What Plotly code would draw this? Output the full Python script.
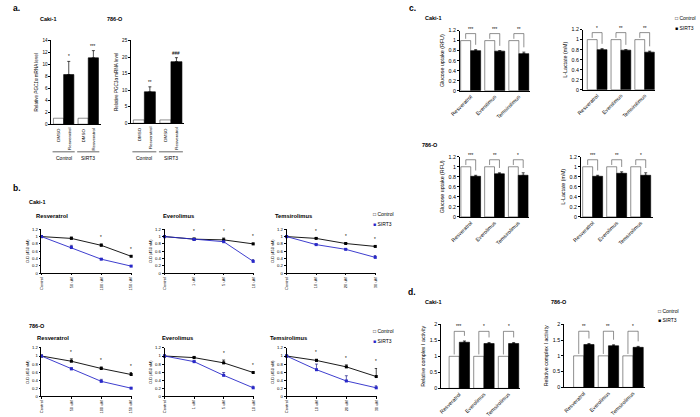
import plotly.graph_objects as go

W, H = 700, 417
FONT = "Liberation Sans, Arial, sans-serif"
BLUE = "#2828c8"
BARGAP = 0.17

# ---- a. PGC1a mRNA level
a_groups = ["Control", "SIRT3"]
a_conds = ["DMSO", "Resveratrol"]
a_caki_dmso = [1.0, 1.0]
a_caki_res = [8.3, 11.1]
a_caki_res_err = [2.2, 1.2]
a_caki_sig = ["*", "***"]
a_786_dmso = [1.0, 1.0]
a_786_res = [9.5, 18.6]
a_786_res_err = [1.5, 1.2]
a_786_sig = ["**", "###"]

# ---- b. cell viability (O.D 450 nM)
res_ticks = ["Control", "50 uM", "100 uM", "150 uM"]
eve_ticks = ["Control", "1 uM", "5 uM", "10 uM"]
tem_ticks = ["Control", "10 uM", "20 uM", "30 uM"]

caki_res_ctrl = [1.0, 0.95, 0.76, 0.46]
caki_res_ctrl_err = [0, 0.04, 0.04, 0.02]
caki_res_sirt = [1.0, 0.70, 0.38, 0.19]
caki_res_sirt_err = [0, 0.06, 0.02, 0.01]
caki_res_sig = ["", "", "*", "*"]

caki_eve_ctrl = [1.0, 0.93, 0.91, 0.80]
caki_eve_ctrl_err = [0, 0.03, 0.05, 0.02]
caki_eve_sirt = [1.0, 0.92, 0.86, 0.32]
caki_eve_sirt_err = [0, 0.02, 0.02, 0.05]
caki_eve_sig = ["", "*", "*", "*"]

caki_tem_ctrl = [1.0, 0.95, 0.81, 0.73]
caki_tem_ctrl_err = [0, 0.02, 0.02, 0.02]
caki_tem_sirt = [1.0, 0.78, 0.65, 0.43]
caki_tem_sirt_err = [0, 0.02, 0.02, 0.05]
caki_tem_sig = ["", "*", "*", "*"]

o786_res_ctrl = [1.0, 0.87, 0.69, 0.54]
o786_res_ctrl_err = [0, 0.06, 0.04, 0.05]
o786_res_sirt = [1.0, 0.68, 0.37, 0.20]
o786_res_sirt_err = [0, 0.03, 0.05, 0.02]
o786_res_sig = ["", "*", "*", "*"]

o786_eve_ctrl = [1.0, 0.96, 0.83, 0.59]
o786_eve_ctrl_err = [0, 0.03, 0.07, 0.02]
o786_eve_sirt = [1.0, 0.86, 0.52, 0.21]
o786_eve_sirt_err = [0, 0.02, 0.07, 0.04]
o786_eve_sig = ["", "", "*", "*"]

o786_tem_ctrl = [1.0, 0.89, 0.73, 0.49]
o786_tem_ctrl_err = [0, 0.03, 0.05, 0.20]
o786_tem_sirt = [1.0, 0.66, 0.38, 0.21]
o786_tem_sirt_err = [0, 0.14, 0.13, 0.05]
o786_tem_sig = ["", "*", "*", "*"]

# ---- c. glucose uptake / lactate, d. complex I activity
drugs = ["Resveratrol", "Everolimus", "Temsirolimus"]
ctrl_ones = [1.0, 1.0, 1.0]

caki_glu = [0.80, 0.79, 0.74]
caki_glu_err = [0.02, 0.01, 0.03]
caki_glu_sig = ["***", "***", "**"]
caki_lac = [0.80, 0.79, 0.75]
caki_lac_err = [0.02, 0.01, 0.02]
caki_lac_sig = ["*", "**", "**"]
o786_glu = [0.81, 0.86, 0.83]
o786_glu_err = [0.02, 0.02, 0.05]
o786_glu_sig = ["***", "**", "*"]
o786_lac = [0.81, 0.87, 0.83]
o786_lac_err = [0.02, 0.03, 0.05]
o786_lac_sig = ["***", "**", "*"]

caki_cx1 = [1.44, 1.40, 1.40]
caki_cx1_err = [0.04, 0.03, 0.03]
caki_cx1_sig = ["***", "*", "*"]
o786_cx1 = [1.36, 1.32, 1.27]
o786_cx1_err = [0.03, 0.03, 0.03]
o786_cx1_sig = ["**", "**", "*"]

fig = go.Figure()
n_axes = 0


def new_axes(x0, x1, y_top, y_bot, xopt, yopt):
    # domains given in page pixels
    global n_axes
    n_axes += 1
    s = "" if n_axes == 1 else str(n_axes)
    xa = dict(domain=[x0 / W, x1 / W], anchor="y" + s, showline=True, linecolor="black",
              linewidth=0.8, showgrid=False, zeroline=False, ticks="", color="black")
    ya = dict(domain=[1 - y_bot / H, 1 - y_top / H], anchor="x" + s, showline=True,
              linecolor="black", linewidth=0.8, showgrid=False, zeroline=False,
              ticks="outside", ticklen=2, tickwidth=0.7, color="black")
    xa.update(xopt)
    ya.update(yopt)
    fig.update_layout({"xaxis" + s: xa, "yaxis" + s: ya})
    return "x" + s, "y" + s


def label(x, y, text, size, bold=False, anchor="left"):
    fig.add_annotation(x=x / W, y=1 - y / H, xref="paper", yref="paper",
                       text=f"<b>{text}</b>" if bold else text, showarrow=False,
                       xanchor=anchor, yanchor="middle", font=dict(size=size, color="black"))


def legend(x, y, sirt_color, size=5):
    label(x, y, "□ Control", size)
    label(x, y + 10, f"<span style='color:{sirt_color}'>■</span> SIRT3", size)


def err(vals):
    return dict(type="data", array=vals, symmetric=False, arrayminus=[0] * len(vals),
                color="black", thickness=0.7, width=1.5)


def panel_a(x0, x1, y_top, y_bot, dmso, res, res_err, sig, ymax, dtick):
    xa, ya = new_axes(x0, x1, y_top, y_bot,
                      dict(range=[-0.5, len(a_groups) - 0.5], showticklabels=False),
                      dict(range=[0, ymax], dtick=dtick, tickfont=dict(size=4.6),
                           title=dict(text="Relative <i>PGC1α</i> mRNA level",
                                      font=dict(size=4.6), standoff=3)))
    xs = list(range(len(a_groups)))
    fig.add_bar(x=xs, y=dmso, marker=dict(color="white", line=dict(color="#444", width=0.6)),
                xaxis=xa, yaxis=ya, showlegend=False)
    fig.add_bar(x=xs, y=res, marker=dict(color="black", line=dict(color="black", width=0.6)),
                error_y=err(res_err), xaxis=xa, yaxis=ya, showlegend=False)
    off = (1 - BARGAP) / 4
    for i, g in enumerate(a_groups):
        for j, c in enumerate(a_conds):
            fig.add_annotation(x=i + (2 * j - 1) * off, y=1 - (y_bot + 2) / H, xref=xa, yref="paper",
                               text=c, textangle=-90, showarrow=False, xanchor="center",
                               yanchor="top", font=dict(size=4.4))
        fig.add_shape(type="line", x0=i - 0.45, x1=i + 0.45, y0=1 - 151 / H, y1=1 - 151 / H,
                      xref=xa, yref="paper", line=dict(color="black", width=0.6))
        fig.add_annotation(x=i, y=1 - 157 / H, xref=xa, yref="paper", text=g, showarrow=False,
                           font=dict(size=5))
        fig.add_annotation(x=i + off, y=res[i] + res_err[i], xref=xa, yref=ya, text=sig[i],
                           showarrow=False, yanchor="bottom", yshift=0, font=dict(size=4.6))


def panel_bar(x0, x1, y_top, y_bot, xr, trt, trt_err, sig, ymax, dtick, ytitle, bfrac):
    xa, ya = new_axes(x0, x1, y_top, y_bot,
                      dict(range=xr, tickvals=list(range(len(drugs))), ticktext=drugs,
                           tickangle=-45, tickfont=dict(size=5.3)),
                      dict(range=[0, ymax], dtick=dtick, tickfont=dict(size=5.3),
                           title=dict(text=ytitle, font=dict(size=5.3), standoff=3)))
    xs = list(range(len(drugs)))
    fig.add_bar(x=xs, y=ctrl_ones, marker=dict(color="white", line=dict(color="#444", width=0.6)),
                xaxis=xa, yaxis=ya, showlegend=False)
    fig.add_bar(x=xs, y=trt, marker=dict(color="black", line=dict(color="black", width=0.6)),
                error_y=err(trt_err), xaxis=xa, yaxis=ya, showlegend=False)
    off = (1 - BARGAP) / 4
    top = ymax * bfrac
    for i, s in enumerate(sig):
        lb = ctrl_ones[i] + 0.03 * ymax
        rb = trt[i] + trt_err[i] + 0.08 * ymax
        fig.add_shape(type="path", xref=xa, yref=ya,
                      path=f"M {i - off},{lb} L {i - off},{top} L {i + off},{top} L {i + off},{rb}",
                      line=dict(color="#444", width=0.6))
        fig.add_annotation(x=i, y=top, xref=xa, yref=ya, text=s, showarrow=False,
                           yanchor="bottom", font=dict(size=4.6))


def panel_line(x0, x1, y_top, y_bot, ticks, ctrl, ctrl_err, sirt, sirt_err, sig):
    xs = list(range(len(ticks)))
    xa, ya = new_axes(x0, x1, y_top, y_bot,
                      dict(range=[0, len(ticks) - 1 + 0.03], tickvals=xs, ticktext=ticks,
                           tickangle=-90, tickfont=dict(size=4), ticks="outside", ticklen=1.5,
                           tickwidth=0.6),
                      dict(range=[0, 1.2], dtick=0.2, tickfont=dict(size=4.2),
                           title=dict(text="O.D (450 nM)", font=dict(size=3.9), standoff=2)))
    fig.add_scatter(x=xs, y=ctrl, mode="lines+markers", cliponaxis=False,
                    line=dict(color="black", width=0.9),
                    marker=dict(symbol="square", size=3, color="black"),
                    error_y=err(ctrl_err), xaxis=xa, yaxis=ya, showlegend=False)
    e = err(sirt_err)
    e["color"] = "#20208a"
    fig.add_scatter(x=xs, y=sirt, mode="lines+markers", cliponaxis=False,
                    line=dict(color=BLUE, width=0.9),
                    marker=dict(symbol="square", size=3, color=BLUE),
                    error_y=e, xaxis=xa, yaxis=ya, showlegend=False)
    for i, s in enumerate(sig):
        if s:
            fig.add_annotation(x=i, y=ctrl[i] + ctrl_err[i], xref=xa, yref=ya, text=s,
                               showarrow=False, yanchor="bottom", yshift=2, font=dict(size=4.5))


# a.
panel_a(42, 92, 38, 123, a_caki_dmso, a_caki_res, a_caki_res_err, a_caki_sig, 14, 2)
panel_a(123, 177, 38, 122, a_786_dmso, a_786_res, a_786_res_err, a_786_sig, 25, 5)
label(1, 5, "a.", 8.5, bold=True)
label(28, 16, "Caki-1", 5.5, bold=True)
label(97, 16, "786-O", 5.5, bold=True)

# b.
panel_line(32, 124, 229.6, 274, res_ticks, caki_res_ctrl, caki_res_ctrl_err,
           caki_res_sirt, caki_res_sirt_err, caki_res_sig)
panel_line(157, 248, 229.6, 274, eve_ticks, caki_eve_ctrl, caki_eve_ctrl_err,
           caki_eve_sirt, caki_eve_sirt_err, caki_eve_sig)
panel_line(281, 372, 229.6, 274, tem_ticks, caki_tem_ctrl, caki_tem_ctrl_err,
           caki_tem_sirt, caki_tem_sirt_err, caki_tem_sig)
panel_line(32, 124, 350, 399, res_ticks, o786_res_ctrl, o786_res_ctrl_err,
           o786_res_sirt, o786_res_sirt_err, o786_res_sig)
panel_line(157, 248, 350, 399, eve_ticks, o786_eve_ctrl, o786_eve_ctrl_err,
           o786_eve_sirt, o786_eve_sirt_err, o786_eve_sig)
panel_line(281, 373, 350, 399, tem_ticks, o786_tem_ctrl, o786_tem_ctrl_err,
           o786_tem_sirt, o786_tem_sirt_err, o786_tem_sig)
label(1, 188, "b.", 8.5, bold=True)
label(17, 202, "Caki-1", 5.5, bold=True)
label(24, 216, "Resveratrol", 5.8, bold=True)
label(153, 216, "Everolimus", 5.8, bold=True)
label(267, 216, "Temsirolimus", 5.8, bold=True)
label(17, 328, "786-O", 5.5, bold=True)
label(25, 340, "Resveratrol", 5.8, bold=True)
label(152, 340, "Everolimus", 5.8, bold=True)
label(262, 340, "Temsirolimus", 5.8, bold=True)
legend(367, 214, BLUE)
legend(367, 333, BLUE)

# c.
panel_bar(457, 528, 28, 89, [-0.45, 2.45], caki_glu, caki_glu_err, caki_glu_sig,
          1.2, 0.2, "Glucose uptake (RFU)", 0.95)
panel_bar(582, 655, 27, 88, [-0.6, 2.42], caki_lac, caki_lac_err, caki_lac_sig,
          1.2, 0.2, "L-Lactate (mM)", 0.95)
panel_bar(457, 527, 156, 217, [-0.46, 2.44], o786_glu, o786_glu_err, o786_glu_sig,
          1.2, 0.2, "Glucose uptake (RFU)", 0.95)
panel_bar(580, 653, 156, 217, [-0.49, 2.5], o786_lac, o786_lac_err, o786_lac_sig,
          1.2, 0.2, "L-Lactate (mM)", 0.95)
label(403, 5, "c.", 8.5, bold=True)
label(420, 15, "Caki-1", 5.5, bold=True)
label(417, 144, "786-O", 5.5, bold=True)
legend(674, 15, "black")

# d.
panel_bar(438, 518, 326, 391, [-0.74, 2.46], caki_cx1, caki_cx1_err, caki_cx1_sig,
          2, 0.5, "Relative complex I activity", 0.89)
panel_bar(563, 645, 326, 390, [-0.8, 2.48], o786_cx1, o786_cx1_err, o786_cx1_sig,
          2, 0.5, "Relative complex I activity", 0.89)
label(402, 293, "d.", 8.5, bold=True)
label(420, 303, "Caki-1", 5.5, bold=True)
label(548, 303, "786-O", 5.5, bold=True)
legend(656, 312, "black")

fig.update_layout(
    width=W, height=H,
    margin=dict(l=0, r=0, t=0, b=0),
    paper_bgcolor="white", plot_bgcolor="white",
    barmode="group", bargap=BARGAP, bargroupgap=0,
    font=dict(family=FONT, color="black", size=5),
    showlegend=False,
)

# the page body has a default 8px margin; drop it so the figure sits at the window corner
fig.write_html("out.html", config={"displayModeBar": False},
               post_script="document.body.style.margin='0';")
